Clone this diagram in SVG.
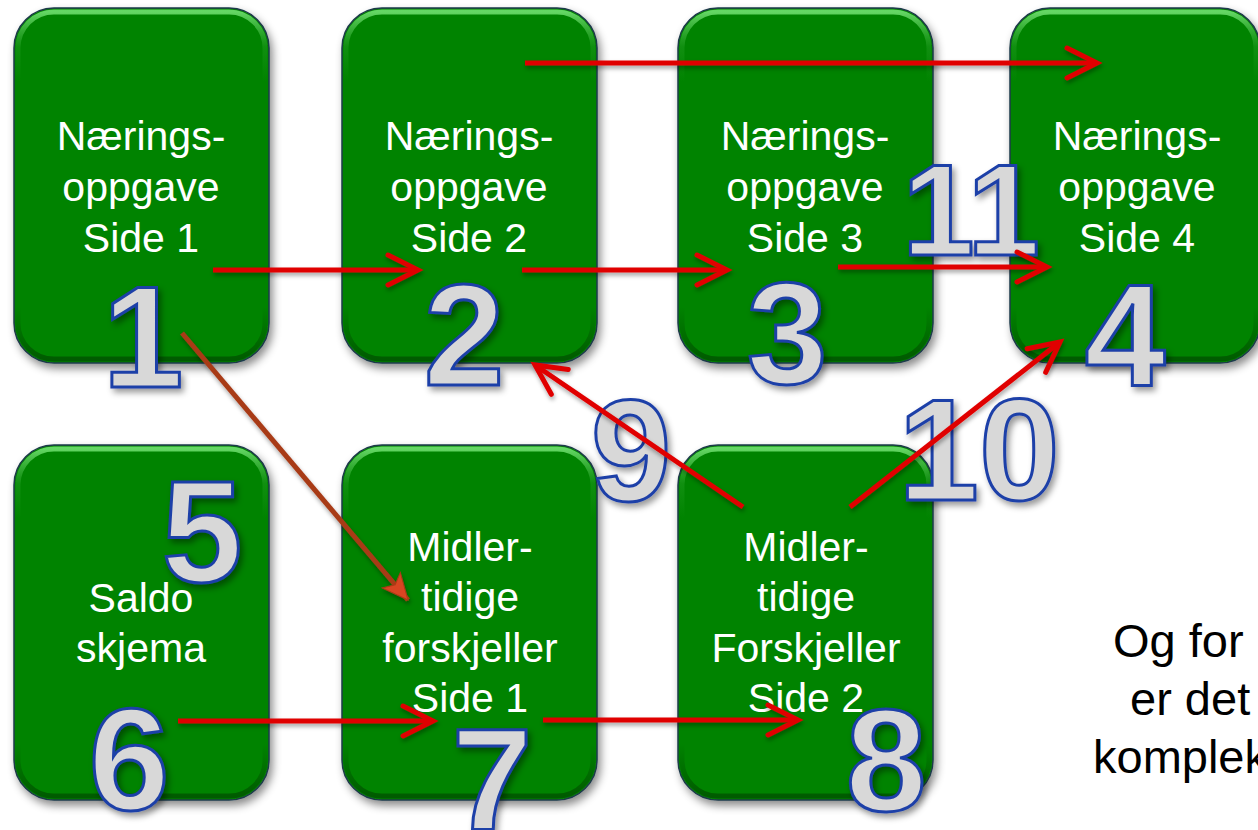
<svg xmlns="http://www.w3.org/2000/svg" width="1258" height="830" viewBox="0 0 1258 830">
<defs>
<filter id="sh" x="-10%" y="-10%" width="125%" height="125%">
<feDropShadow dx="3" dy="5" stdDeviation="4" flood-color="#000" flood-opacity="0.45"/>
</filter>
<filter id="nsh" x="-20%" y="-20%" width="150%" height="150%">
<feDropShadow dx="3" dy="4" stdDeviation="3" flood-color="#000" flood-opacity="0.4"/>
</filter>
<filter id="ash" filterUnits="userSpaceOnUse" x="0" y="0" width="1258" height="830">
<feDropShadow dx="1" dy="3" stdDeviation="2" flood-color="#000" flood-opacity="0.35"/>
</filter>
<linearGradient id="hlg" x1="0" y1="0" x2="0" y2="1">
<stop offset="0" stop-color="#6fe06f" stop-opacity="0.9"/>
<stop offset="0.1" stop-color="#4fc04f" stop-opacity="0.2"/>
<stop offset="0.2" stop-color="#4fc04f" stop-opacity="0"/>
<stop offset="0.85" stop-color="#003300" stop-opacity="0"/>
<stop offset="1" stop-color="#003300" stop-opacity="0.5"/>
</linearGradient>
<marker id="chev" markerUnits="userSpaceOnUse" markerWidth="40" markerHeight="40" viewBox="-34 -20 40 40" refX="0" refY="0" orient="auto">
<path d="M-30,-15 L0,0 L-30,15" fill="none" stroke="#e00000" stroke-width="5" stroke-linecap="round" stroke-linejoin="miter"/>
</marker>
<marker id="tri" markerUnits="userSpaceOnUse" markerWidth="40" markerHeight="40" viewBox="-30 -20 40 40" refX="0" refY="0" orient="auto">
<path d="M0,0 L-26,-12 L-20,0 L-26,12 Z" fill="#d84520" stroke="#a83a18" stroke-width="1"/>
</marker>
<style>
.box{fill:#068306;stroke:#1d3a4a;stroke-width:1.5;filter:url(#sh)}
.hl{fill:none;stroke:url(#hlg);stroke-width:5}
.t{font-family:"Liberation Sans",Arial,sans-serif;font-size:41px;fill:#fff;text-anchor:middle}
.n{font-family:"Liberation Sans",Arial,sans-serif;font-weight:bold;font-size:145px;fill:#d8d8d8;stroke:#1f3fa8;stroke-width:3;text-anchor:middle;filter:url(#nsh)}
.r{fill:none;stroke:#e00000;stroke-width:5;marker-end:url(#chev);filter:url(#ash)}
.b{fill:none;stroke:#a83a18;stroke-width:5;marker-end:url(#tri);filter:url(#ash)}
.side{font-family:"Liberation Sans",Arial,sans-serif;font-size:47px;fill:#000}
</style>
</defs>
<rect width="1258" height="830" fill="#fff"/>

<g id="node1">
<rect class="box" x="14" y="8" width="255" height="355" rx="40"/>
<rect class="hl" x="18" y="12" width="247" height="347" rx="36"/>
<text class="t" x="141" y="150">Nærings-</text>
<text class="t" x="141" y="201">oppgave</text>
<text class="t" x="141" y="252">Side 1</text>
</g>
<g id="node2">
<rect class="box" x="342" y="8" width="255" height="355" rx="40"/>
<rect class="hl" x="346" y="12" width="247" height="347" rx="36"/>
<text class="t" x="469" y="150">Nærings-</text>
<text class="t" x="469" y="201">oppgave</text>
<text class="t" x="469" y="252">Side 2</text>
</g>
<g id="node3">
<rect class="box" x="678" y="8" width="255" height="355" rx="40"/>
<rect class="hl" x="682" y="12" width="247" height="347" rx="36"/>
<text class="t" x="805" y="150">Nærings-</text>
<text class="t" x="805" y="201">oppgave</text>
<text class="t" x="805" y="252">Side 3</text>
</g>
<g id="node4">
<rect class="box" x="1010" y="8" width="250" height="355" rx="40"/>
<rect class="hl" x="1014" y="12" width="242" height="347" rx="36"/>
<text class="t" x="1137" y="150">Nærings-</text>
<text class="t" x="1137" y="201">oppgave</text>
<text class="t" x="1137" y="252">Side 4</text>
</g>
<g id="node5">
<rect class="box" x="14" y="445" width="255" height="355" rx="40"/>
<rect class="hl" x="18" y="449" width="247" height="347" rx="36"/>
<text class="t" x="141" y="612">Saldo</text>
<text class="t" x="141" y="662">skjema</text>
</g>
<g id="node7">
<rect class="box" x="342" y="445" width="255" height="355" rx="40"/>
<rect class="hl" x="346" y="449" width="247" height="347" rx="36"/>
<text class="t" x="470" y="561">Midler-</text>
<text class="t" x="470" y="611">tidige</text>
<text class="t" x="470" y="662">forskjeller</text>
<text class="t" x="470" y="712">Side 1</text>
</g>
<g id="node8">
<rect class="box" x="678" y="445" width="255" height="355" rx="40"/>
<rect class="hl" x="682" y="449" width="247" height="347" rx="36"/>
<text class="t" x="806" y="561">Midler-</text>
<text class="t" x="806" y="611">tidige</text>
<text class="t" x="806" y="662">Forskjeller</text>
<text class="t" x="806" y="712">Side 2</text>
</g>

<g id="numbers">
<text class="n" x="143" y="387">1</text>
<text class="n" x="464" y="385">2</text>
<text class="n" x="787" y="383">3</text>
<text class="n" x="1125" y="385">4</text>
<text class="n" x="202" y="582">5</text>
<text class="n" x="129" y="810">6</text>
<text class="n" x="492" y="829">7</text>
<text class="n" x="886" y="811">8</text>
<text class="n" x="631" y="501">9</text>
<text class="n" x="979" y="500">10</text>
<text class="n" x="971" y="255" style="font-size:130px">11</text>
</g>

<g id="connectors">
<path class="r" d="M213,270 L418,270"/>
<path class="r" d="M522,270 L727,270"/>
<path class="r" d="M838,267 L1047,267"/>
<path class="r" d="M525,63 L1097,63"/>
<path class="r" d="M178,721 L433,721"/>
<path class="r" d="M543,720 L798,720"/>
<path class="r" d="M743,507 L535,365"/>
<path class="r" d="M850,507 L1060,342"/>
<path class="b" d="M182,333 L408,600"/>
</g>

<g id="side-text">
<text class="side" x="1113" y="657">Og for</text>
<text class="side" x="1130" y="715">er det</text>
<text class="side" x="1093" y="773">komplek</text>
</g>
</svg>
